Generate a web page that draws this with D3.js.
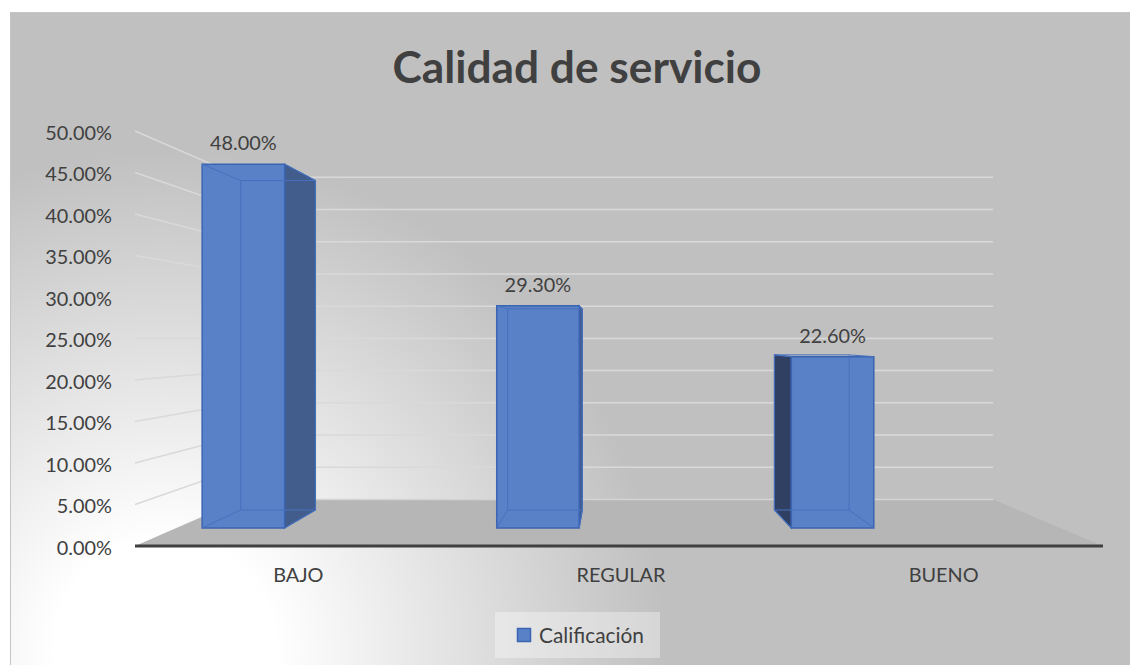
<!DOCTYPE html>
<html>
<head>
<meta charset="utf-8">
<script src="https://cdn.jsdelivr.net/npm/d3@7"></script>
<style>
  body { margin: 0; background: #fff; }
  svg { display: block; font-family: Lato, "Open Sans", sans-serif; }
</style>
</head>
<body>
<svg id="chart" width="1130" height="665"></svg>
<script>
const title = "Calidad de servicio";
const seriesName = "Calificación";
const categories = ["BAJO", "REGULAR", "BUENO"];
const values = [0.48, 0.293, 0.226];
const yTicks = [0, 0.05, 0.10, 0.15, 0.20, 0.25, 0.30, 0.35, 0.40, 0.45, 0.50];

const width = 1130, height = 665;
const svg = d3.select("#chart");
const fmt = d3.format(".2%");

// front plane of the 3d box, everything else is pulled toward the vanishing point
const x = d3.scaleBand().domain(categories).range([135, 1103]);
const y = d3.scaleLinear().domain([0, 0.5]).range([546, 131]);
const vp = [612, 338];
const depth = { front: 1, back: 0.776, barFront: 0.913, barBack: 0.827 };
const barOffset = 0.087, barWidth = 0.28;   // fractions of the band

function project(px, py, s) {
    return [vp[0] + s * (px - vp[0]), vp[1] + s * (py - vp[1])];
}

// fits a text to a measured width by scaling the font size
function fitSize(text, weight, target) {
    const t = svg.append("text").attr("font-size", 20).attr("font-weight", weight).text(text);
    const w = t.node().getComputedTextLength();
    t.remove();
    return 20 * target / w;
}

// background
const defs = svg.append("defs");
const grad = defs.append("radialGradient")
    .attr("id", "bg").attr("gradientUnits", "userSpaceOnUse")
    .attr("cx", 165).attr("cy", 650).attr("r", 500);
grad.append("stop").attr("offset", "0%").attr("stop-color", "#ffffff");
grad.append("stop").attr("offset", "22%").attr("stop-color", "#ffffff");
grad.append("stop").attr("offset", "100%").attr("stop-color", "#c0c0c0");

svg.append("rect").attr("x", 10.5).attr("y", 12.5)
    .attr("width", 1200).attr("height", 700)
    .attr("fill", "url(#bg)").attr("stroke", "#c4c4c4");

// title
svg.append("text")
    .attr("x", 577).attr("y", 83)
    .attr("text-anchor", "middle")
    .attr("font-weight", "bold")
    .attr("font-size", fitSize(title, "bold", 369))
    .attr("fill", "#404040")
    .text(title);

// gridlines: side wall + back wall
const [xl, xr] = x.range();
const grid = svg.append("g").attr("stroke", "#d9d9d9").attr("stroke-width", 1.5).attr("fill", "none");
yTicks.filter(d => d > 0).forEach(function (v) {
    const a = project(xl, y(v), depth.front);
    const b = project(xl, y(v), depth.back);
    const c = project(xr, y(v), depth.back);
    grid.append("path").attr("d", d3.line()([a, b, c]));
});

// floor
const floor = [
    project(xl, y(0), depth.front),
    project(xr, y(0), depth.front),
    project(xr, y(0), depth.back),
    project(xl, y(0), depth.back)
];
svg.append("path").attr("d", d3.line()(floor) + "Z").attr("fill", "#b6b6b6");
svg.append("line")
    .attr("x1", floor[3][0]).attr("y1", floor[3][1])
    .attr("x2", floor[2][0]).attr("y2", floor[2][1])
    .attr("stroke", "#d4d4d4").attr("stroke-width", 1.5);
svg.append("line")
    .attr("x1", floor[0][0]).attr("y1", floor[0][1])
    .attr("x2", floor[1][0]).attr("y2", floor[1][1])
    .attr("stroke", "#404040").attr("stroke-width", 3);

// y axis labels
const tickSize = fitSize("50.00%", "normal", 66.7);
svg.append("g").selectAll("text")
    .data(yTicks)
    .enter().append("text")
    .attr("x", 112)
    .attr("y", d => y(d) + 2)
    .attr("dy", "0.35em")
    .attr("text-anchor", "end")
    .attr("font-size", tickSize)
    .attr("fill", "#404040")
    .text(d => fmt(d));

// x axis labels
svg.append("g").selectAll("text")
    .data(categories)
    .enter().append("text")
    .attr("x", d => x(d) + x.bandwidth() / 2 + 2)
    .attr("y", 575)
    .attr("dy", "0.35em")
    .attr("text-anchor", "middle")
    .attr("font-size", tickSize)
    .attr("fill", "#404040")
    .text(d => d);

// bars
const frontColor = "#5881c8", edgeColor = "#3b64b2", innerColor = "#4771bd";
const bars = svg.append("g");
categories.forEach(function (cat, i) {
    const x0 = x(cat) + x.bandwidth() * barOffset;
    const x1 = x0 + x.bandwidth() * barWidth;
    const yt = y(values[i]), yb = y(0);

    const fTL = project(x0, yt, depth.barFront), fTR = project(x1, yt, depth.barFront);
    const fBL = project(x0, yb, depth.barFront), fBR = project(x1, yb, depth.barFront);
    const bTL = project(x0, yt, depth.barBack), bTR = project(x1, yt, depth.barBack);
    const bBL = project(x0, yb, depth.barBack), bBR = project(x1, yb, depth.barBack);

    const g = bars.append("g");
    // side faces that turn toward the viewer
    if (bTR[0] > fTR[0]) {
        g.append("path").attr("d", d3.line()([fTR, bTR, bBR, fBR]) + "Z")
            .attr("fill", "#425d8c").attr("stroke", edgeColor).attr("stroke-width", 1.2);
    }
    if (bTL[0] < fTL[0]) {
        g.append("path").attr("d", d3.line()([fTL, bTL, bBL, fBL]) + "Z")
            .attr("fill", "#2f4063").attr("stroke", edgeColor).attr("stroke-width", 1.2);
    }
    // front face
    g.append("path").attr("d", d3.line()([fTL, fTR, fBR, fBL]) + "Z")
        .attr("fill", frontColor).attr("stroke", edgeColor).attr("stroke-width", 1.5);
    // hidden edges showing through the front face
    const inner = [
        [fTL, bTL], [fTR, bTR], [fBL, bBL], [fBR, bBR],
        [bTL, bTR], [bBL, bBR], [bTL, bBL], [bTR, bBR]
    ];
    g.selectAll("line.inner")
        .data(inner)
        .enter().append("line")
        .attr("x1", d => d[0][0]).attr("y1", d => d[0][1])
        .attr("x2", d => d[1][0]).attr("y2", d => d[1][1])
        .attr("stroke", innerColor).attr("stroke-width", 1);

    // data label
    g.append("text")
        .attr("x", (fTL[0] + fTR[0]) / 2)
        .attr("y", fTL[1] - 21)
        .attr("dy", "0.35em")
        .attr("text-anchor", "middle")
        .attr("font-size", tickSize)
        .attr("fill", "#404040")
        .text(fmt(values[i]));
});

// legend
const legend = svg.append("g");
legend.append("rect").attr("x", 495).attr("y", 612).attr("width", 165).attr("height", 46)
    .attr("fill", "#ffffff").attr("fill-opacity", 0.35);
legend.append("rect").attr("x", 517.5).attr("y", 628.5).attr("width", 13).attr("height", 13)
    .attr("fill", frontColor).attr("stroke", edgeColor).attr("stroke-width", 1.5);
legend.append("text")
    .attr("x", 539).attr("y", 636)
    .attr("dy", "0.35em")
    .attr("font-size", fitSize(seriesName, "normal", 105))
    .attr("fill", "#404040")
    .text(seriesName);
</script>
</body>
</html>
